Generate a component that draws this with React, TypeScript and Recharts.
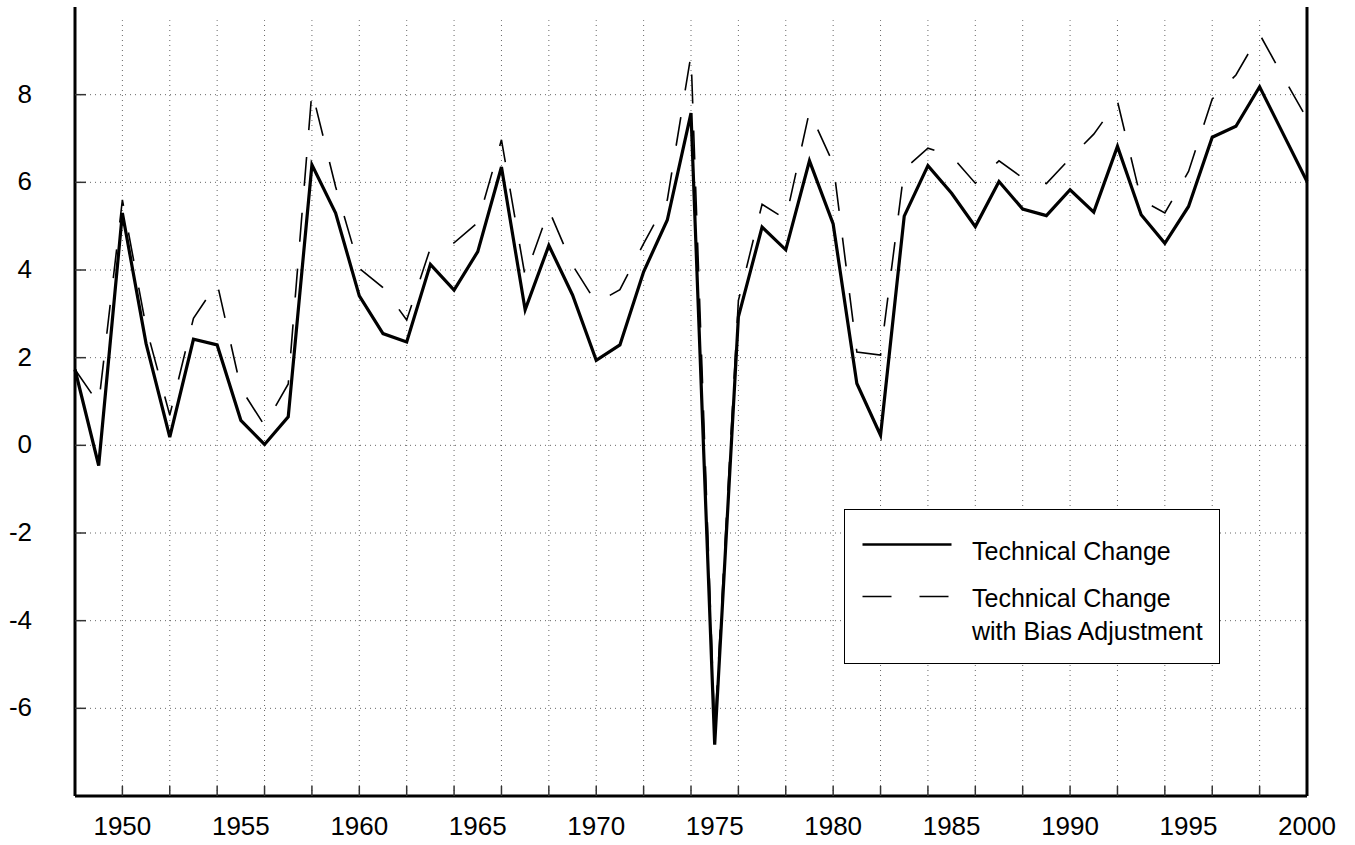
import React from 'react';
import { LineChart, Line, XAxis, YAxis, ReferenceLine } from 'recharts';

const years = [
  1948, 1949, 1950, 1951, 1952, 1953, 1954, 1955, 1956, 1957,
  1958, 1959, 1960, 1961, 1962, 1963, 1964, 1965, 1966, 1967,
  1968, 1969, 1970, 1971, 1972, 1973, 1974, 1975, 1976, 1977,
  1978, 1979, 1980, 1981, 1982, 1983, 1984, 1985, 1986, 1987,
  1988, 1989, 1990, 1991, 1992, 1993, 1994, 1995, 1996, 1997,
  1998, 1999, 2000,
];

const technicalChange = [
  1.73, -0.46, 5.3, 2.32, 0.19, 2.42, 2.29, 0.57, 0.02, 0.65,
  6.4, 5.3, 3.41, 2.55, 2.36, 4.13, 3.54, 4.42, 6.35, 3.09,
  4.56, 3.43, 1.94, 2.29, 3.96, 5.14, 7.58, -6.83, 2.93, 4.98,
  4.46, 6.49, 5.05, 1.41, 0.23, 5.23, 6.38, 5.75, 4.99, 6.02,
  5.39, 5.24, 5.83, 5.32, 6.82, 5.26, 4.61, 5.45, 7.03, 7.28,
  8.18, 7.1, 6.02,
];

const biasAdjusted = [
  1.73, 0.95, 5.6, 2.7, 0.69, 2.9, 3.7, 1.3, 0.45, 1.4,
  8.08, 5.9, 4.04, 3.6, 2.86, 4.5, 4.62, 5.08, 6.97, 3.85,
  5.37, 4.11, 3.25, 3.55, 4.6, 5.6, 8.91, -6.5, 3.3, 5.5,
  5.16, 7.62, 6.43, 2.13, 2.06, 6.3, 6.78, 6.6, 5.98, 6.49,
  6.1, 5.97, 6.55, 7.1, 7.85, 5.6, 5.3, 6.25, 7.9, 8.45,
  9.38, 8.4, 7.45,
];

const yTicks = [-8, -6, -4, -2, 0, 2, 4, 6, 8, 10];
const yGrid = [-6, -4, -2, 0, 2, 4, 6, 8];
const xGrid = years.filter((y) => y % 2 === 0 && y > 1948 && y < 2000);
const xTicks = years.filter((y) => y % 2 === 0 || y % 5 === 0);

const data = years.map((year, i) => ({
  year,
  tc: technicalChange[i],
  tcb: biasAdjusted[i],
}));

const FONT = '"Liberation Sans", Arial, Helvetica, sans-serif';

const LeftTick = (props: any) => {
  const { x, y, payload } = props;
  const v = payload.value;
  if (v <= -8 || v >= 10) return null;
  return (
    <g>
      <line x1={x} x2={x + 11} y1={y} y2={y} stroke="#333" strokeWidth={1.5} />
      <text x={x - 43} y={y - 1} textAnchor="end" dominantBaseline="central" fontSize={26} fontFamily={FONT} fill="#000">
        {v}
      </text>
    </g>
  );
};

const RightTick = (props: any) => {
  const { x, y, payload } = props;
  const v = payload.value;
  if (v <= -8 || v >= 10) return null;
  return <line x1={x - 12} x2={x} y1={y} y2={y} stroke="#333" strokeWidth={1.5} />;
};

const BottomTick = (props: any) => {
  const { x, y, payload } = props;
  const v = payload.value;
  const mark = v % 2 === 0 && v > 1948 && v < 2000;
  return (
    <g>
      {mark && <line x1={x} x2={x} y1={y} y2={y - 10} stroke="#333" strokeWidth={1.5} />}
      {v % 5 === 0 && (
        <text x={x} y={y + 30} textAnchor="middle" dominantBaseline="central" fontSize={26} fontFamily={FONT} fill="#000">
          {v}
        </text>
      )}
    </g>
  );
};

const ChartLegend = () => (
  <div
    style={{
      position: 'absolute',
      left: 844,
      top: 509,
      width: 376,
      height: 155,
      border: '1.5px solid #000',
      boxSizing: 'border-box',
      background: '#fff',
      fontFamily: FONT,
      fontSize: 25,
      color: '#000',
      whiteSpace: 'nowrap',
    }}
  >
    <svg width={120} height={120} style={{ position: 'absolute', left: 0, top: 0 }}>
      <line x1={17.5} x2={106.5} y1={34.5} y2={34.5} stroke="#000" strokeWidth={2.7} />
      <line x1={17.5} x2={106.5} y1={86.5} y2={86.5} stroke="#000" strokeWidth={1.6} strokeDasharray="29 28" />
    </svg>
    <div style={{ position: 'absolute', left: 127, top: 24.5, lineHeight: '33px' }}>Technical Change</div>
    <div style={{ position: 'absolute', left: 127, top: 71.5, lineHeight: '33px' }}>
      Technical Change
      <br />
      with Bias Adjustment
    </div>
  </div>
);

export default function App() {
  return (
    <div style={{ position: 'absolute', left: 0, top: 0, width: 1355, height: 845, background: '#fff' }}>
      <LineChart width={1355} height={845} data={data} margin={{ top: 7, right: 0, left: 0, bottom: 0 }}>
        <XAxis
          dataKey="year"
          type="number"
          domain={[1948, 2000]}
          ticks={xTicks}
          interval={0}
          height={49}
          tickSize={0}
          tickMargin={0}
          tickLine={false}
          axisLine={{ stroke: '#000', strokeWidth: 3 }}
          tick={<BottomTick />}
        />
        <YAxis
          domain={[-8, 10]}
          ticks={yTicks}
          interval={0}
          width={75}
          tickSize={0}
          tickMargin={0}
          tickLine={false}
          axisLine={{ stroke: '#000', strokeWidth: 3 }}
          tick={<LeftTick />}
        />
        <YAxis
          yAxisId="right"
          orientation="right"
          domain={[-8, 10]}
          ticks={yTicks}
          interval={0}
          width={48}
          tickSize={0}
          tickMargin={0}
          tickLine={false}
          axisLine={{ stroke: '#000', strokeWidth: 3 }}
          tick={<RightTick />}
        />
        {yGrid.map((v) => (
          <ReferenceLine key={`h${v}`} y={v} stroke="#666" strokeWidth={1} strokeDasharray="1 4" />
        ))}
        {xGrid.map((v) => (
          <ReferenceLine
            key={`v${v}`}
            segment={[{ x: v, y: -8 }, { x: v, y: 9.7 }]}
            stroke="#666"
            strokeWidth={1}
            strokeDasharray="1 4"
          />
        ))}
        <Line
          type="linear"
          dataKey="tcb"
          stroke="#000"
          strokeWidth={1.6}
          strokeDasharray="29 27"
          dot={false}
          activeDot={false}
          isAnimationActive={false}
        />
        <Line
          type="linear"
          dataKey="tc"
          stroke="#000"
          strokeWidth={3.2}
          dot={false}
          activeDot={false}
          isAnimationActive={false}
        />
      </LineChart>
      <ChartLegend />
    </div>
  );
}
